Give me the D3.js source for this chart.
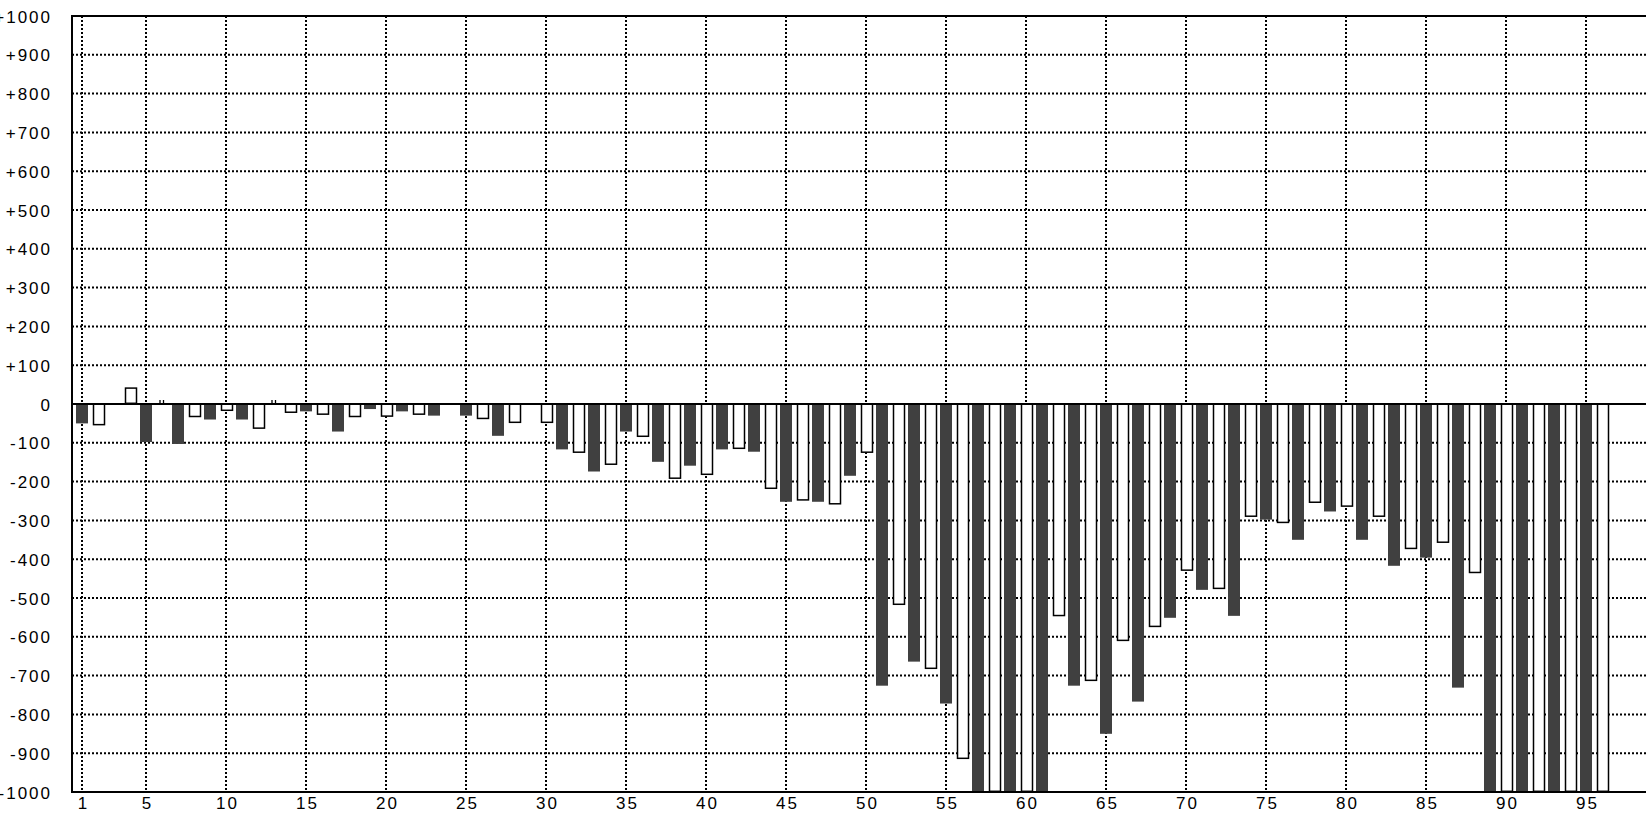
<!DOCTYPE html>
<html>
<head>
<meta charset="utf-8">
<script src="https://cdn.jsdelivr.net/npm/d3@7/dist/d3.min.js"></script>
<style>
  html, body { margin: 0; padding: 0; background: #fff; overflow: hidden; }
  svg { display: block; }
  text { font-family: "Liberation Sans", Arial, sans-serif; font-size: 17px; letter-spacing: 2px; fill: #000; }
</style>
</head>
<body>
<svg id="chart" width="1646" height="814"></svg>
<script>
// ---- data ----
const categories = d3.range(1, 97); // category numbers 1..96
// values; null = no bar drawn; odd categories = dark series, even = white series
const values = [
  -50, -55, null, 41, -98, 0, -103, -34, -40, -18,
  -40, -64, 0, -23, -19, -28, -71, -34, -13, -33,
  -19, -28, -30, null, -30, -39, -82, -49, null, -49,
  -117, -126, -174, -157, -71, -85, -149, -193, -159, -183,
  -117, -116, -123, -219, -252, -249, -252, -259, -185, -126,
  -726, -518, -664, -683, -772, -915, -1000, -1000, -1000, -1000,
  -1000, -547, -726, -714, -850, -611, -767, -575, -551, -430,
  -479, -477, -546, -291, -298, -307, -350, -255, -277, -265,
  -350, -291, -417, -374, -396, -358, -731, -436, -1000, -1000,
  -1000, -1000, -1000, -1000, -1000, -1000
];
const xTickValues = [1, 5, 10, 15, 20, 25, 30, 35, 40, 45, 50, 55, 60, 65, 70, 75, 80, 85, 90, 95];
const yTickValues = [1000, 900, 800, 700, 600, 500, 400, 300, 200, 100, 0, -100, -200, -300, -400, -500, -600, -700, -800, -900, -1000];

// ---- layout ----
const svg = d3.select("#chart");
const plotLeft = 72, plotRight = 1660, plotTop = 16, plotBottom = 792;
const x = d3.scaleLinear().domain([0, 100]).range([66, 1666]);
const y = d3.scaleLinear().domain([-1000, 1000]).range([plotBottom, plotTop]);
const darkColor = "#404040";

// grid
const grid = svg.append("g");
grid.selectAll("line.v").data(xTickValues).join("line")
  .attr("x1", d => x(d)).attr("x2", d => x(d))
  .attr("y1", plotTop).attr("y2", plotBottom)
  .attr("stroke", "#000").attr("stroke-width", 2).attr("stroke-dasharray", "2,2");
grid.selectAll("line.h").data(yTickValues.filter(v => v !== 0 && Math.abs(v) < 1000)).join("line")
  .attr("x1", plotLeft).attr("x2", plotRight)
  .attr("y1", d => y(d)).attr("y2", d => y(d))
  .attr("stroke", "#000").attr("stroke-width", 2).attr("stroke-dasharray", "2,2");

// bars
const data = categories.map((c, i) => ({ c, v: values[i], dark: c % 2 === 1 }));
const barData = data.filter(d => d.v !== null && d.v !== 0);
const bars = svg.append("g");
bars.selectAll("rect.dark").data(barData.filter(d => d.dark)).join("rect")
  .attr("x", d => x(d.c) - 6).attr("width", 12)
  .attr("y", d => Math.min(y(d.v), y(0)))
  .attr("height", d => Math.abs(y(d.v) - y(0)))
  .attr("fill", darkColor);
bars.selectAll("rect.light").data(barData.filter(d => !d.dark)).join("rect")
  .attr("x", d => x(d.c) - 4.5).attr("width", 11)
  .attr("y", d => Math.min(y(d.v), y(0)))
  .attr("height", d => Math.max(0, Math.abs(y(d.v) - y(0)) - 0.7))
  .attr("fill", "#fff").attr("stroke", "#000").attr("stroke-width", 1.5);

// zero-value markers
const zeroData = data.filter(d => d.v === 0);
bars.selectAll("path.zero").data(zeroData).join("path")
  .attr("d", d => {
    const cx = x(d.c), cy = y(0);
    return `M${cx - 5},${cy} L${cx + 5},${cy} M${cx - 2},${cy - 4} L${cx - 2},${cy + 1} M${cx + 1.5},${cy - 4} L${cx + 1.5},${cy + 1}`;
  })
  .attr("stroke", "#000").attr("stroke-width", 1.3).attr("fill", "none");

// frame lines
const frame = svg.append("g").attr("stroke", "#000").attr("stroke-width", 2);
frame.append("line").attr("x1", plotLeft - 1).attr("x2", plotRight).attr("y1", y(1000)).attr("y2", y(1000));
frame.append("line").attr("x1", plotLeft - 1).attr("x2", plotRight).attr("y1", y(-1000)).attr("y2", y(-1000));
frame.append("line").attr("x1", plotLeft).attr("x2", plotRight).attr("y1", y(0)).attr("y2", y(0));
frame.append("line").attr("x1", plotLeft).attr("x2", plotLeft).attr("y1", y(1000) - 1).attr("y2", y(-1000) + 1);

// y axis labels
const yAxis = d3.axisLeft(y).tickValues(yTickValues).tickSize(0).tickPadding(0)
  .tickFormat(d => d > 0 ? "+" + d : String(d));
const yg = svg.append("g").attr("transform", "translate(52,0)").call(yAxis);
yg.select(".domain").remove();
yg.selectAll("text").attr("font-family", null).attr("font-size", null).attr("x", 0).attr("dy", "0.36em");

// x axis labels
const xAxis = d3.axisBottom(x).tickValues(xTickValues).tickSize(0).tickPadding(0);
const xg = svg.append("g").attr("transform", `translate(1,${plotBottom})`).call(xAxis);
xg.select(".domain").remove();
xg.selectAll("text").attr("font-family", null).attr("font-size", null).attr("y", 5);
</script>
</body>
</html>
